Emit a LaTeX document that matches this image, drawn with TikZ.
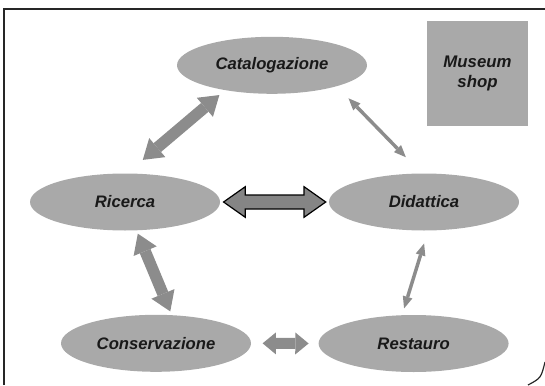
\documentclass[tikz,border=0pt]{standalone}
\usepackage{fontspec}
\setmainfont{Liberation Sans}
\usetikzlibrary{positioning}
\usetikzlibrary{calc}
\usetikzlibrary{arrows.meta}
\usetikzlibrary{shapes.geometric}
\definecolor{bubble}{HTML}{A9A9A9}
\definecolor{link}{HTML}{8C8C8C}
\definecolor{pageline}{HTML}{262626}
\tikzset{
	area/.style={ellipse, fill=bubble, minimum width=142.5pt, minimum height=42.75pt, inner sep=0pt,
		font=\fontsize{12.5}{15.5}\selectfont\bfseries\itshape, text=black!90},
	shopbox/.style={rectangle, fill=bubble, minimum width=75.75pt, minimum height=79pt, inner sep=0pt, align=center,
		font=\fontsize{12.6}{15.5}\selectfont\bfseries\itshape, text=black!90},
	biglink/.style={draw=link, line width=8.6pt,
		{Triangle[length=14.25pt,width=18.75pt,line width=0pt]}-{Triangle[length=14.25pt,width=18.75pt,line width=0pt]}},
	midlink/.style={draw=link, line width=8.25pt,
		{Triangle[length=10pt,width=16.5pt,line width=0pt]}-{Triangle[length=10pt,width=16.5pt,line width=0pt]}},
	thinlink/.style={draw=link, line width=2.6pt,
		{Triangle[length=9pt,width=7.5pt,line width=0pt]}-{Triangle[length=9pt,width=7.5pt,line width=0pt]}},
	blocklink/.style={fill=link!95!black, draw=black, line width=0.9pt, line join=miter}
}
\begin{document}
\begin{tikzpicture}[x=0.75pt, y=-0.75pt]
	\useasboundingbox (0,0) rectangle (545,385);
	\clip (0,0) rectangle (545,385);
	
	% page border
	\draw[pageline, line width=0.9pt] (4,385) -- (4,9) -- (545,9);
	\draw[pageline, line width=0.9pt] (545,362) .. controls (541,378) .. (528,385);
	
	% areas
	\node[area] (cat) at (272,65.3) {Catalogazione};
	\node[area] (ric) at (125,202) {Ricerca};
	\node[area] (did) at (424,202) {Didattica};
	\node[area] (con) at (156,343.3) {Conservazione};
	\node[area] (res) at (413.6,343.5) {Restauro};
	
	% shop
	\node[shopbox] (shop) at (477.5,73.4) {Museum\\shop};
	
	% links
	\draw[biglink, shorten <=15.5pt, shorten >=5.5pt] (ric.86) -- (cat.208);
	\draw[thinlink, shorten <=12.5pt, shorten >=16.8pt] (cat.342) -- (did.95);
	\draw[biglink, shorten <=2.5pt, shorten >=2.85pt] (ric.292) -- (con.61);
	\draw[thinlink, shorten <=10pt, shorten >=5.1pt] (did.278) -- (res.112);
	\draw[midlink, shorten <=8.5pt, shorten >=7.3pt] (con.east) -- (res.west);
	
	% ricerca - didattica
	\filldraw[blocklink] ($(ric.east)+(3.3,0)$) -- ++(21.7,-15.3) -- ++(0,8.3)
		-- ($(did.west)+(-24.7,-7)$) -- ++(0,-8.3) -- ($(did.west)+(-3,0)$)
		-- ++(-21.7,15.3) -- ++(0,-8.3) -- ($(ric.east)+(25,7)$) -- ++(0,8.3) -- cycle;
\end{tikzpicture}
\end{document}
